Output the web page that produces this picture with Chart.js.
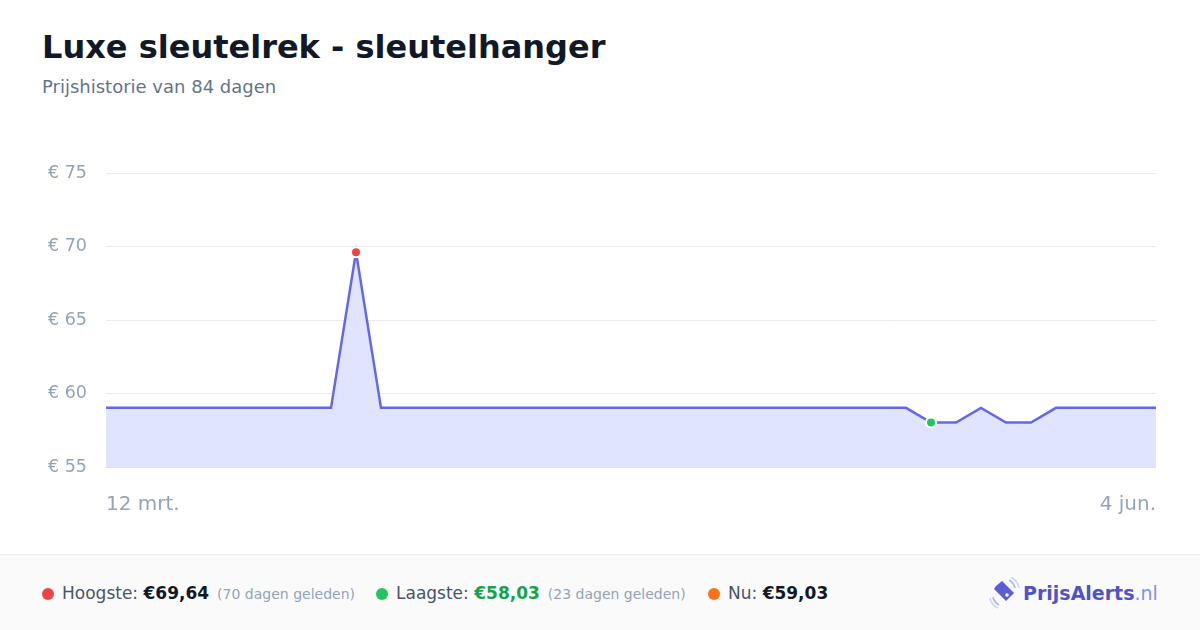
<!DOCTYPE html>
<html lang="nl">
<head>
<meta charset="utf-8">
<script src="https://cdn.jsdelivr.net/npm/chart.js@4"></script>
<style>
    * { margin: 0; padding: 0; box-sizing: border-box; }
    body { width: 1200px; height: 630px; background: #fff; font-family: "DejaVu Sans", sans-serif; position: relative; overflow: hidden; }
    h1 { position: absolute; left: 42px; top: 28px; font-size: 32px; font-weight: bold; color: #111827; }
    .sub { position: absolute; left: 42px; top: 76px; font-size: 18px; color: #64748b; }
    .chart-box { position: absolute; left: 0; top: 144px; width: 1200px; height: 390px; }
    footer { position: absolute; left: 0; top: 554px; width: 1200px; height: 76px; background: #fafafa; border-top: 1px solid #eeeeee; }
    .stat { position: absolute; top: 28px; font-size: 17px; color: #475569; white-space: nowrap; }
    .stat .dot { display: inline-block; width: 12px; height: 12px; border-radius: 50%; margin-right: 8px; vertical-align: -1px; }
    .stat b { color: #111827; }
    .stat small { font-size: 14px; color: #94a3b8; margin-left: 8px; }
    .logo { position: absolute; left: 988px; top: 22px; display: flex; align-items: center; }
    .logo span { font-size: 19px; font-weight: bold; color: #4f52c9; margin-left: 3px; }
    .logo span i { font-style: normal; font-weight: normal; color: #818cf8; }
</style>
</head>
<body>
<h1>Luxe sleutelrek - sleutelhanger</h1>
<div class="sub">Prijshistorie van 84 dagen</div>
<div class="chart-box"><canvas id="priceChart"></canvas></div>
<footer>
    <div class="stat" style="left:42px"><span class="dot" style="background:#ef4444"></span>Hoogste: <b>€69,64</b><small>(70 dagen geleden)</small></div>
    <div class="stat" style="left:376px"><span class="dot" style="background:#22c55e"></span>Laagste: <b style="color:#16a34a">€58,03</b><small>(23 dagen geleden)</small></div>
    <div class="stat" style="left:708px"><span class="dot" style="background:#f97316"></span>Nu: <b>€59,03</b></div>
    <div class="logo">
        <svg width="32" height="32" viewBox="0 0 32 32">
            <!-- label, punt linksboven -->
            <path d="M8 9 L14 4 L26 16 L18 24 L6 12 Z" fill="#5b5fd6"/>
            <circle cx="19" cy="18" r="1.8" fill="#fff"/>
            <path d="M21 3 Q26 6 27 11" stroke="#a5b4fc" stroke-width="1.6" fill="none"/>
            <path d="M23 0 Q30 4 31 11" stroke="#c7d2fe" stroke-width="1.6" fill="none"/>
            <path d="M5 20 Q6 25 11 28" stroke="#a5b4fc" stroke-width="1.6" fill="none"/>
            <path d="M2 21 Q3 28 10 31" stroke="#c7d2fe" stroke-width="1.6" fill="none"/>
        </svg>
        <span>PrijsAlerts<i>.nl</i></span>
    </div>
</footer>

<script>
// Data van de grafiek (elke 2 dagen)
const labels = [
    '12 mrt.', '14 mrt.', '16 mrt.', '18 mrt.', '20 mrt.', '22 mrt.', '24 mrt.', '26 mrt.', '28 mrt.', '30 mrt.',
    '1 apr.', '3 apr.', '5 apr.', '7 apr.', '9 apr.', '11 apr.', '13 apr.', '15 apr.', '17 apr.', '19 apr.',
    '21 apr.', '23 apr.', '25 apr.', '27 apr.', '29 apr.',
    '1 mei', '3 mei', '5 mei', '7 mei', '9 mei', '11 mei', '13 mei', '15 mei', '17 mei', '19 mei',
    '21 mei', '23 mei', '25 mei', '27 mei', '29 mei', '31 mei',
    '2 jun.', '4 jun.'
];
const prices = [
    59.03, 59.03, 59.03, 59.03, 59.03, 59.03, 59.03, 59.03, 59.03, 59.03,
    69.64, 59.03, 59.03, 59.03, 59.03, 59.03, 59.03, 59.03, 59.03, 59.03,
    59.03, 59.03, 59.03, 59.03, 59.03, 59.03, 59.03, 59.03, 59.03, 59.03,
    59.03, 59.03, 59.03, 58.03, 58.03, 59.03, 58.03, 58.03, 59.03, 59.03,
    59.03, 59.03, 59.03
];
const yTicks = [55, 60, 65, 70, 75];
const highIndex = 10;
const lowIndex = 33;

const pointColors = prices.map((p, i) => i === highIndex ? '#ef4444' : (i === lowIndex ? '#22c55e' : 'transparent'));
const pointRadius = prices.map((p, i) => (i === highIndex || i === lowIndex) ? 5 : 0);

const ctx = document.getElementById('priceChart').getContext('2d');
new Chart(ctx, {
    type: 'line',
    data: {
        labels: labels,
        datasets: [{
            data: prices,
            borderColor: '#6366f1',
            borderWidth: 2.5,
            backgroundColor: '#e0e4fd',
            fill: 'start',
            tension: 0,
            pointBackgroundColor: pointColors,
            pointBorderColor: prices.map((p, i) => pointRadius[i] ? '#ffffff' : 'transparent'),
            pointBorderWidth: 2,
            pointRadius: pointRadius
        }]
    },
    options: {
        responsive: true,
        maintainAspectRatio: false,
        animation: false,
        layout: { padding: { top: 10, right: 44, left: 0, bottom: 0 } },
        plugins: { legend: { display: false }, tooltip: { enabled: false } },
        scales: {
            x: {
                grid: { display: false },
                border: { display: false },
                afterFit: s => { s.height = 67; },
                ticks: {
                    autoSkip: false,
                    maxRotation: 0,
                    align: 'inner',
                    padding: 18,
                    color: '#94a3b8',
                    font: { family: 'DejaVu Sans', size: 20 },
                    callback: function(v, i) { return (i === 0 || i === labels.length - 1) ? labels[i] : ''; }
                }
            },
            y: {
                min: yTicks[0],
                max: yTicks[yTicks.length - 1],
                afterFit: s => { s.width = 106; },
                afterBuildTicks: s => { s.ticks = yTicks.map(v => ({ value: v })); },
                grid: { color: ctx => ctx.tick.value === 55 ? '#dfe1e8' : '#ebebeb', lineWidth: ctx => ctx.tick.value === 55 ? 2 : 1, drawTicks: false },
                border: { display: false },
                ticks: {
                    padding: 19,
                    color: '#94a3b8',
                    font: { family: 'DejaVu Sans', size: 17.5 },
                    callback: v => '€ ' + v
                }
            }
        }
    }
});
</script>
</body>
</html>
